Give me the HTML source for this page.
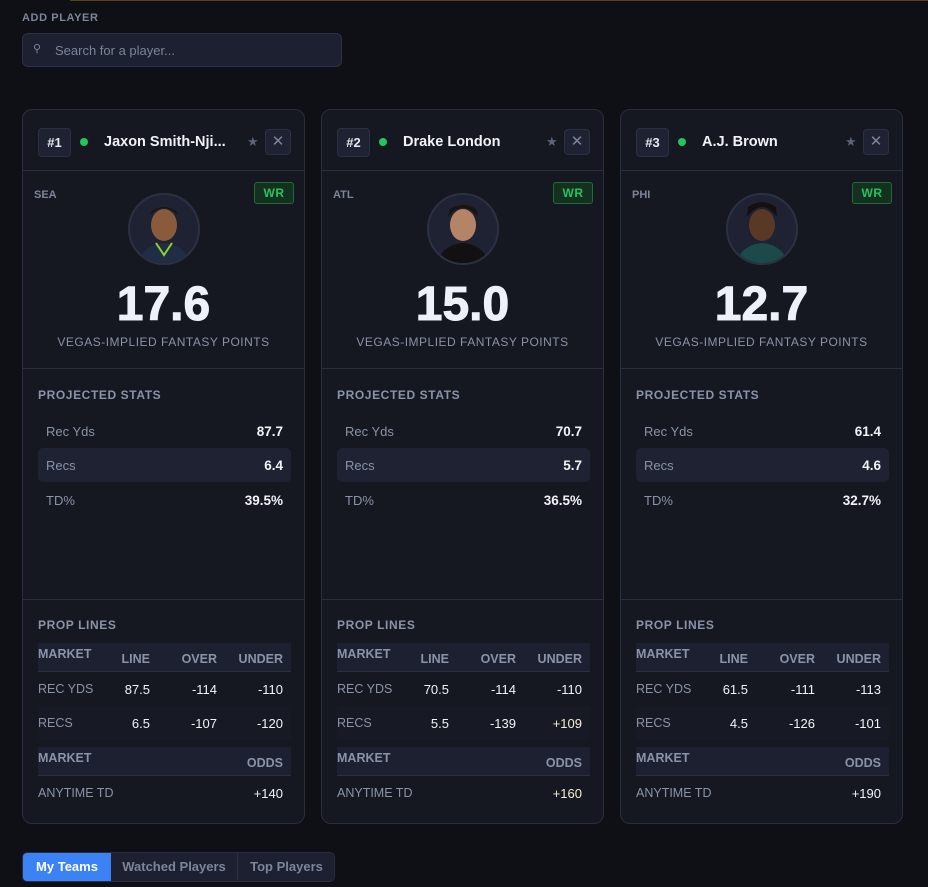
<!DOCTYPE html>
<html><head><meta charset="utf-8"><style>
*{box-sizing:border-box;margin:0;padding:0}
body{width:928px;height:887px;background:#0e1016;font-family:"Liberation Sans",sans-serif;position:relative;overflow:hidden;color:#e6e9f0}
.abs{position:absolute}
.topline{left:70px;top:0;width:858px;height:1px;background:#5a4220}
.lbl{left:22px;top:12px;font-size:11px;font-weight:bold;color:#7c8599;letter-spacing:.6px}
.search{left:22px;top:33px;width:320px;height:34px;background:#1c2030;border:1px solid #2c3142;border-radius:6px;font-size:13px;color:#7c8599;padding:9px 0 0 32px}
.search span{position:absolute;left:10px;top:8px;font-size:11px}
.card{top:109px;width:283px;height:715px;background:#151821;border:1px solid #2a2e3d;border-radius:10px}
.rank{left:15px;top:18px;width:33px;height:29px;background:#1e2232;border:1px solid #2c3142;border-radius:4px;font-size:13px;font-weight:bold;text-align:center;line-height:27px}
.dot{left:57px;top:28px;width:8px;height:8px;border-radius:50%;background:#22c55e}
.name{left:81px;top:24px;font-size:14.5px;font-weight:bold;color:#f1f3f7}
.star{left:224px;top:24px;font-size:13px;color:#5c6477}
.close{left:242px;top:19px;width:26px;height:26px;background:#1e2232;border:1px solid #2c3142;border-radius:4px;color:#7c8599;text-align:center;line-height:23px;font-size:15px}
.hr{left:0;width:281px;height:1px;background:#2a2e3d}
.team{left:11px;top:79px;font-size:11px;font-weight:bold;color:#7c8599}
.wr{left:231px;top:72px;width:40px;height:22px;border:1px solid #1f6b3a;background:#14301f;border-radius:3px;color:#22c55e;font-weight:bold;font-size:12px;text-align:center;line-height:20px;letter-spacing:.5px}
.av{left:105px;top:83px;width:72px;height:72px;border-radius:50%;background:#1e2232;border:2px solid #2c3142;overflow:hidden}
.pts{left:0;width:281px;top:167px;text-align:center;font-size:48px;font-weight:bold;color:#eef1f7;-webkit-text-stroke:1px #eef1f7}
.vegas{left:0;width:281px;top:225px;text-align:center;font-size:12px;color:#8a93a8;letter-spacing:.5px}
.sec{left:15px;font-size:12px;font-weight:bold;color:#8a93a8;letter-spacing:.6px}
.row{left:15px;width:253px;height:34px;border-radius:5px;font-size:13px}
.row .k{position:absolute;left:8px;top:10px;color:#8a93a8}
.row .v{position:absolute;right:8px;top:10px;font-weight:bold;color:#f1f3f7;font-size:13.5px}
.bg{background:#1e2232}
.tbl{left:15px;width:253px;font-size:12.5px}
.th{position:absolute;left:0;width:253px;height:29px;background:#1c2030;border-bottom:1px solid #2a2e3d;color:#8a93a8;font-weight:bold}
.tr{position:absolute;left:0;width:253px;height:34px;color:#f1f3f7;font-size:13px}
.c{position:absolute}
.tr .c{top:10px}
.th .c{top:9px}
.tr .m{color:#8a93a8;left:0;top:10px;font-size:12.5px}
.th .m{left:0;top:4px}
.r1{right:141px}.r2{right:74px}.r3{right:8px}
.warm{color:#f6eed2}
.tabs{left:22px;top:852px;height:30px;width:313px;background:#1c2030;border:1px solid #2a2e3d;border-radius:5px;overflow:hidden;font-size:13px;font-weight:bold;color:#7c8599}
.tab{position:absolute;top:0;height:28px;line-height:28px;text-align:center}
</style></head><body>
<div class="abs topline"></div>
<div class="abs lbl">ADD PLAYER</div>
<div class="abs search"><span>⚲</span>Search for a player...</div>

<!-- CARD 1 -->
<div class="abs card" style="left:22px">
<div class="abs rank">#1</div>
<div class="abs dot"></div>
<div class="abs name">Jaxon Smith-Nji...</div>
<div class="abs star">★</div>
<div class="abs close">✕</div>
<div class="abs hr" style="top:60px"></div>
<div class="abs team">SEA</div>
<div class="abs wr">WR</div>
<div class="abs av"><svg width="68" height="68"><ellipse cx="34" cy="30" rx="13" ry="16" fill="#8a5a3c"/><path d="M20 20 Q34 6 48 20 L46 16 Q34 8 22 16Z" fill="#1a1410"/><path d="M8 70 Q12 50 34 48 Q56 50 60 70Z" fill="#1f2d45"/><path d="M26 48 L34 60 L42 48" stroke="#8bd32a" stroke-width="2" fill="none"/></svg></div>
<div class="abs pts">17.6</div>
<div class="abs vegas">VEGAS-IMPLIED FANTASY POINTS</div>
<div class="abs hr" style="top:258px"></div>
<div class="abs sec" style="top:278px">PROJECTED STATS</div>
<div class="abs row" style="top:304px"><span class="k">Rec Yds</span><span class="v">87.7</span></div>
<div class="abs row bg" style="top:338px"><span class="k">Recs</span><span class="v">6.4</span></div>
<div class="abs row" style="top:373px"><span class="k">TD%</span><span class="v">39.5%</span></div>
<div class="abs hr" style="top:489px"></div>
<div class="abs sec" style="top:508px">PROP LINES</div>
<div class="abs tbl" style="top:533px">
<div class="th" style="top:0"><span class="c m">MARKET</span><span class="c r1">LINE</span><span class="c r2">OVER</span><span class="c r3">UNDER</span></div>
<div class="tr" style="top:29px"><span class="c m">REC YDS</span><span class="c r1">87.5</span><span class="c r2">-114</span><span class="c r3">-110</span></div>
<div class="tr bg" style="top:63px;background:#171a25"><span class="c m">RECS</span><span class="c r1">6.5</span><span class="c r2">-107</span><span class="c r3">-120</span></div>
<div class="th" style="top:104px"><span class="c m">MARKET</span><span class="c r3">ODDS</span></div>
<div class="tr" style="top:133px"><span class="c m">ANYTIME TD</span><span class="c r3">+140</span></div>
</div>
</div>

<!-- CARD 2 -->
<div class="abs card" style="left:321px">
<div class="abs rank">#2</div>
<div class="abs dot"></div>
<div class="abs name">Drake London</div>
<div class="abs star">★</div>
<div class="abs close">✕</div>
<div class="abs hr" style="top:60px"></div>
<div class="abs team">ATL</div>
<div class="abs wr">WR</div>
<div class="abs av"><svg width="68" height="68"><ellipse cx="34" cy="30" rx="13" ry="16" fill="#b58466"/><path d="M19 22 Q34 4 49 22 L47 14 Q34 6 21 14Z" fill="#1a1410"/><path d="M8 70 Q12 50 34 48 Q56 50 60 70Z" fill="#111"/></svg></div>
<div class="abs pts">15.0</div>
<div class="abs vegas">VEGAS-IMPLIED FANTASY POINTS</div>
<div class="abs hr" style="top:258px"></div>
<div class="abs sec" style="top:278px">PROJECTED STATS</div>
<div class="abs row" style="top:304px"><span class="k">Rec Yds</span><span class="v">70.7</span></div>
<div class="abs row bg" style="top:338px"><span class="k">Recs</span><span class="v">5.7</span></div>
<div class="abs row" style="top:373px"><span class="k">TD%</span><span class="v">36.5%</span></div>
<div class="abs hr" style="top:489px"></div>
<div class="abs sec" style="top:508px">PROP LINES</div>
<div class="abs tbl" style="top:533px">
<div class="th" style="top:0"><span class="c m">MARKET</span><span class="c r1">LINE</span><span class="c r2">OVER</span><span class="c r3">UNDER</span></div>
<div class="tr" style="top:29px"><span class="c m">REC YDS</span><span class="c r1">70.5</span><span class="c r2">-114</span><span class="c r3">-110</span></div>
<div class="tr bg" style="top:63px;background:#171a25"><span class="c m">RECS</span><span class="c r1">5.5</span><span class="c r2">-139</span><span class="c r3 warm">+109</span></div>
<div class="th" style="top:104px"><span class="c m">MARKET</span><span class="c r3">ODDS</span></div>
<div class="tr" style="top:133px"><span class="c m">ANYTIME TD</span><span class="c r3 warm">+160</span></div>
</div>
</div>

<!-- CARD 3 -->
<div class="abs card" style="left:620px">
<div class="abs rank">#3</div>
<div class="abs dot"></div>
<div class="abs name">A.J. Brown</div>
<div class="abs star">★</div>
<div class="abs close">✕</div>
<div class="abs hr" style="top:60px"></div>
<div class="abs team">PHI</div>
<div class="abs wr">WR</div>
<div class="abs av"><svg width="68" height="68"><ellipse cx="34" cy="30" rx="13" ry="16" fill="#5a3826"/><path d="M19 22 Q34 2 49 22 L48 12 Q34 2 20 12Z" fill="#151010"/><path d="M8 70 Q12 50 34 48 Q56 50 60 70Z" fill="#1c4a4a"/></svg></div>
<div class="abs pts">12.7</div>
<div class="abs vegas">VEGAS-IMPLIED FANTASY POINTS</div>
<div class="abs hr" style="top:258px"></div>
<div class="abs sec" style="top:278px">PROJECTED STATS</div>
<div class="abs row" style="top:304px"><span class="k">Rec Yds</span><span class="v">61.4</span></div>
<div class="abs row bg" style="top:338px"><span class="k">Recs</span><span class="v">4.6</span></div>
<div class="abs row" style="top:373px"><span class="k">TD%</span><span class="v">32.7%</span></div>
<div class="abs hr" style="top:489px"></div>
<div class="abs sec" style="top:508px">PROP LINES</div>
<div class="abs tbl" style="top:533px">
<div class="th" style="top:0"><span class="c m">MARKET</span><span class="c r1">LINE</span><span class="c r2">OVER</span><span class="c r3">UNDER</span></div>
<div class="tr" style="top:29px"><span class="c m">REC YDS</span><span class="c r1">61.5</span><span class="c r2">-111</span><span class="c r3">-113</span></div>
<div class="tr bg" style="top:63px;background:#171a25"><span class="c m">RECS</span><span class="c r1">4.5</span><span class="c r2">-126</span><span class="c r3">-101</span></div>
<div class="th" style="top:104px"><span class="c m">MARKET</span><span class="c r3">ODDS</span></div>
<div class="tr" style="top:133px"><span class="c m">ANYTIME TD</span><span class="c r3">+190</span></div>
</div>
</div>

<div class="abs tabs">
<div class="tab" style="left:0;width:88px;background:#3b82f6;color:#fff">My Teams</div>
<div class="tab" style="left:88px;width:127px;border-right:1px solid #2a2e3d">Watched Players</div>
<div class="tab" style="left:215px;width:97px">Top Players</div>
</div>
</body></html>
